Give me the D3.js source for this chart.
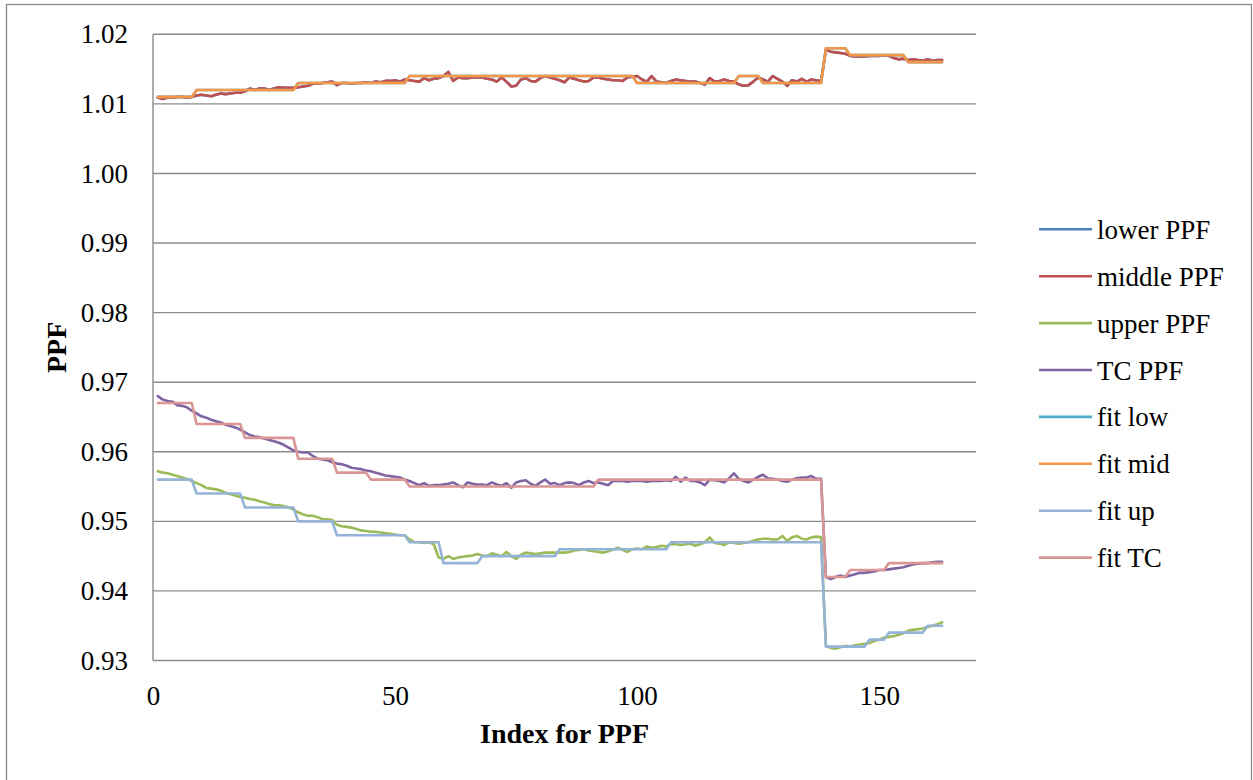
<!DOCTYPE html>
<html>
<head>
<meta charset="utf-8">
<script src="https://cdn.jsdelivr.net/npm/d3@7/dist/d3.min.js"></script>
<style>
  html, body { margin: 0; padding: 0; background: #ffffff; }
  svg { display: block; }
  text { font-family: "Liberation Serif", "Times New Roman", serif; fill: #000; }
</style>
</head>
<body>
<svg id="chart" width="1253" height="780"></svg>
<script>
// ---------------- data ----------------
const seriesNames = ["lower PPF", "middle PPF", "upper PPF", "TC PPF", "fit low", "fit mid", "fit up", "fit TC"];
const seriesColors = ["#4F81BD", "#C0504D", "#9BBB59", "#8064A2", "#4BACC6", "#F79646", "#95B3D7", "#D99694"];
const xTicks = [0, 50, 100, 150];
const yTicks = [0.93, 0.94, 0.95, 0.96, 0.97, 0.98, 0.99, 1.00, 1.01, 1.02];
const xLabel = "Index for PPF";
const yLabel = "PPF";

// index values 1..163
const indexValues = [
  1,2,3,4,5,6,7,8,9,10,11,12,13,14,15,16,17,18,19,20,
  21,22,23,24,25,26,27,28,29,30,31,32,33,34,35,36,37,38,39,40,
  41,42,43,44,45,46,47,48,49,50,51,52,53,54,55,56,57,58,59,60,
  61,62,63,64,65,66,67,68,69,70,71,72,73,74,75,76,77,78,79,80,
  81,82,83,84,85,86,87,88,89,90,91,92,93,94,95,96,97,98,99,100,
  101,102,103,104,105,106,107,108,109,110,111,112,113,114,115,116,117,118,119,120,
  121,122,123,124,125,126,127,128,129,130,131,132,133,134,135,136,137,138,139,140,
  141,142,143,144,145,146,147,148,149,150,151,152,153,154,155,156,157,158,159,160,
  161,162,163
];

const middlePPF = [
  1.0109,1.0107,1.0109,1.0109,1.0110,1.0110,1.0109,1.0110,1.0112,1.0113,
  1.0112,1.0111,1.0113,1.0115,1.0114,1.0115,1.0116,1.0116,1.0118,1.0122,
  1.0120,1.0122,1.0122,1.0120,1.0122,1.0124,1.0123,1.0123,1.0123,1.0124,
  1.0125,1.0126,1.0129,1.0129,1.0130,1.0131,1.0132,1.0127,1.0130,1.0130,
  1.0129,1.0130,1.0130,1.0131,1.0130,1.0132,1.0131,1.0133,1.0133,1.0134,
  1.0132,1.0135,1.0134,1.0133,1.0132,1.0137,1.0134,1.0136,1.0137,1.0140,
  1.0146,1.0133,1.0138,1.0137,1.0137,1.0138,1.0138,1.0138,1.0136,1.0135,
  1.0132,1.0138,1.0132,1.0125,1.0126,1.0135,1.0137,1.0133,1.0132,1.0137,
  1.0140,1.0138,1.0136,1.0134,1.0131,1.0138,1.0136,1.0134,1.0132,1.0133,
  1.0138,1.0138,1.0136,1.0135,1.0134,1.0134,1.0133,1.0138,1.0139,1.0140,
  1.0135,1.0132,1.0140,1.0132,1.0131,1.0130,1.0133,1.0135,1.0134,1.0133,
  1.0132,1.0132,1.0130,1.0128,1.0137,1.0132,1.0133,1.0135,1.0133,1.0132,
  1.0128,1.0126,1.0127,1.0132,1.0138,1.0135,1.0132,1.0140,1.0136,1.0132,
  1.0126,1.0134,1.0132,1.0136,1.0132,1.0135,1.0134,1.0133,1.0178,1.0175,
  1.0174,1.0173,1.0172,1.0169,1.0168,1.0168,1.0168,1.0169,1.0169,1.0169,
  1.0170,1.0169,1.0166,1.0164,1.0165,1.0163,1.0164,1.0163,1.0162,1.0164,
  1.0162,1.0163,1.0163
];

// lower PPF lies exactly under middle PPF in the picture (not visible)
const lowerPPF = middlePPF.slice();

const upperPPF = [
  0.9572,0.9570,0.9569,0.9567,0.9565,0.9563,0.9561,0.9558,0.9555,0.9552,
  0.9548,0.9547,0.9546,0.9544,0.9541,0.9539,0.9537,0.9535,0.9534,0.9532,
  0.9531,0.9529,0.9527,0.9525,0.9523,0.9523,0.9522,0.9520,0.9517,0.9513,
  0.9510,0.9508,0.9508,0.9506,0.9503,0.9503,0.9502,0.9495,0.9493,0.9492,
  0.9491,0.9489,0.9487,0.9486,0.9485,0.9485,0.9484,0.9483,0.9482,0.9481,
  0.9480,0.9480,0.9474,0.9470,0.9470,0.9469,0.9470,0.9467,0.9448,0.9446,
  0.9450,0.9446,0.9448,0.9449,0.9450,0.9451,0.9453,0.9451,0.9450,0.9454,
  0.9452,0.9450,0.9456,0.9450,0.9446,0.9452,0.9455,0.9454,0.9453,0.9454,
  0.9455,0.9455,0.9455,0.9455,0.9455,0.9456,0.9458,0.9459,0.9460,0.9458,
  0.9457,0.9456,0.9455,0.9457,0.9459,0.9462,0.9459,0.9456,0.9460,0.9461,
  0.9460,0.9464,0.9462,0.9463,0.9465,0.9464,0.9467,0.9467,0.9466,0.9467,
  0.9468,0.9465,0.9467,0.9470,0.9477,0.9469,0.9468,0.9466,0.9470,0.9469,
  0.9468,0.9469,0.9470,0.9472,0.9474,0.9475,0.9475,0.9474,0.9474,0.9479,
  0.9472,0.9477,0.9479,0.9475,0.9474,0.9477,0.9478,0.9477,0.9321,0.9318,
  0.9317,0.9319,0.9321,0.9320,0.9322,0.9323,0.9324,0.9325,0.9328,0.9330,
  0.9333,0.9334,0.9335,0.9337,0.9339,0.9343,0.9344,0.9345,0.9346,0.9348,
  0.9350,0.9352,0.9355
];

const tcPPF = [
  0.9680,0.9675,0.9673,0.9672,0.9667,0.9666,0.9664,0.9659,0.9655,0.9651,
  0.9649,0.9646,0.9644,0.9642,0.9639,0.9637,0.9635,0.9632,0.9628,0.9624,
  0.9622,0.9621,0.9619,0.9617,0.9615,0.9613,0.9610,0.9606,0.9602,0.9600,
  0.9599,0.9599,0.9594,0.9590,0.9589,0.9588,0.9585,0.9583,0.9582,0.9580,
  0.9577,0.9576,0.9575,0.9573,0.9572,0.9570,0.9568,0.9566,0.9565,0.9564,
  0.9563,0.9560,0.9558,0.9555,0.9552,0.9555,0.9551,0.9552,0.9552,0.9553,
  0.9554,0.9556,0.9552,0.9549,0.9556,0.9554,0.9553,0.9553,0.9552,0.9556,
  0.9553,0.9551,0.9555,0.9548,0.9556,0.9558,0.9559,0.9554,0.9551,0.9556,
  0.9560,0.9554,0.9555,0.9552,0.9555,0.9556,0.9555,0.9552,0.9556,0.9558,
  0.9555,0.9556,0.9554,0.9552,0.9558,0.9558,0.9558,0.9557,0.9558,0.9558,
  0.9558,0.9557,0.9558,0.9558,0.9558,0.9559,0.9558,0.9564,0.9557,0.9563,
  0.9558,0.9558,0.9556,0.9552,0.9560,0.9559,0.9558,0.9556,0.9562,0.9569,
  0.9561,0.9558,0.9556,0.9560,0.9564,0.9567,0.9562,0.9561,0.9560,0.9558,
  0.9557,0.9560,0.9562,0.9563,0.9563,0.9565,0.9561,0.9561,0.9420,0.9417,
  0.9420,0.9422,0.9420,0.9422,0.9424,0.9426,0.9426,0.9427,0.9428,0.9430,
  0.9430,0.9431,0.9432,0.9433,0.9434,0.9436,0.9438,0.9439,0.9440,0.9440,
  0.9441,0.9442,0.9442
];

// ten values per row (index 1-10, 11-20, ...)
const fitMid = [
  1.011,1.011,1.011,1.011,1.011,1.011,1.011,1.011,1.012,1.012,
  1.012,1.012,1.012,1.012,1.012,1.012,1.012,1.012,1.012,1.012,
  1.012,1.012,1.012,1.012,1.012,1.012,1.012,1.012,1.012,1.013,
  1.013,1.013,1.013,1.013,1.013,1.013,1.013,1.013,1.013,1.013,
  1.013,1.013,1.013,1.013,1.013,1.013,1.013,1.013,1.013,1.013,
  1.013,1.013,1.014,1.014,1.014,1.014,1.014,1.014,1.014,1.014,
  1.014,1.014,1.014,1.014,1.014,1.014,1.014,1.014,1.014,1.014,
  1.014,1.014,1.014,1.014,1.014,1.014,1.014,1.014,1.014,1.014,
  1.014,1.014,1.014,1.014,1.014,1.014,1.014,1.014,1.014,1.014,
  1.014,1.014,1.014,1.014,1.014,1.014,1.014,1.014,1.014,1.013,
  1.013,1.013,1.013,1.013,1.013,1.013,1.013,1.013,1.013,1.013,
  1.013,1.013,1.013,1.013,1.013,1.013,1.013,1.013,1.013,1.013,
  1.014,1.014,1.014,1.014,1.014,1.013,1.013,1.013,1.013,1.013,
  1.013,1.013,1.013,1.013,1.013,1.013,1.013,1.013,1.018,1.018,
  1.018,1.018,1.018,1.017,1.017,1.017,1.017,1.017,1.017,1.017,
  1.017,1.017,1.017,1.017,1.017,1.016,1.016,1.016,1.016,1.016,
  1.016,1.016,1.016
];

// fit low lies exactly under fit mid in the picture (not visible)
const fitLow = fitMid.slice();

const fitUp = [
  0.956,0.956,0.956,0.956,0.956,0.956,0.956,0.956,0.954,0.954,
  0.954,0.954,0.954,0.954,0.954,0.954,0.954,0.954,0.952,0.952,
  0.952,0.952,0.952,0.952,0.952,0.952,0.952,0.952,0.952,0.950,
  0.950,0.950,0.950,0.950,0.950,0.950,0.950,0.948,0.948,0.948,
  0.948,0.948,0.948,0.948,0.948,0.948,0.948,0.948,0.948,0.948,
  0.948,0.948,0.947,0.947,0.947,0.947,0.947,0.947,0.947,0.944,
  0.944,0.944,0.944,0.944,0.944,0.944,0.944,0.945,0.945,0.945,
  0.945,0.945,0.945,0.945,0.945,0.945,0.945,0.945,0.945,0.945,
  0.945,0.945,0.945,0.946,0.946,0.946,0.946,0.946,0.946,0.946,
  0.946,0.946,0.946,0.946,0.946,0.946,0.946,0.946,0.946,0.946,
  0.946,0.946,0.946,0.946,0.946,0.946,0.947,0.947,0.947,0.947,
  0.947,0.947,0.947,0.947,0.947,0.947,0.947,0.947,0.947,0.947,
  0.947,0.947,0.947,0.947,0.947,0.947,0.947,0.947,0.947,0.947,
  0.947,0.947,0.947,0.947,0.947,0.947,0.947,0.947,0.932,0.932,
  0.932,0.932,0.932,0.932,0.932,0.932,0.932,0.933,0.933,0.933,
  0.933,0.934,0.934,0.934,0.934,0.934,0.934,0.934,0.934,0.935,
  0.935,0.935,0.935
];

const fitTC = [
  0.967,0.967,0.967,0.967,0.967,0.967,0.967,0.967,0.964,0.964,
  0.964,0.964,0.964,0.964,0.964,0.964,0.964,0.964,0.962,0.962,
  0.962,0.962,0.962,0.962,0.962,0.962,0.962,0.962,0.962,0.959,
  0.959,0.959,0.959,0.959,0.959,0.959,0.959,0.957,0.957,0.957,
  0.957,0.957,0.957,0.957,0.956,0.956,0.956,0.956,0.956,0.956,
  0.956,0.956,0.955,0.955,0.955,0.955,0.955,0.955,0.955,0.955,
  0.955,0.955,0.955,0.955,0.955,0.955,0.955,0.955,0.955,0.955,
  0.955,0.955,0.955,0.955,0.955,0.955,0.955,0.955,0.955,0.955,
  0.955,0.955,0.955,0.955,0.955,0.955,0.955,0.955,0.955,0.955,
  0.955,0.956,0.956,0.956,0.956,0.956,0.956,0.956,0.956,0.956,
  0.956,0.956,0.956,0.956,0.956,0.956,0.956,0.956,0.956,0.956,
  0.956,0.956,0.956,0.956,0.956,0.956,0.956,0.956,0.956,0.956,
  0.956,0.956,0.956,0.956,0.956,0.956,0.956,0.956,0.956,0.956,
  0.956,0.956,0.956,0.956,0.956,0.956,0.956,0.956,0.942,0.942,
  0.942,0.942,0.942,0.943,0.943,0.943,0.943,0.943,0.943,0.943,
  0.943,0.944,0.944,0.944,0.944,0.944,0.944,0.944,0.944,0.944,
  0.944,0.944,0.944
];

const seriesValues = [lowerPPF, middlePPF, upperPPF, tcPPF, fitLow, fitMid, fitUp, fitTC];

// ---------------- drawing ----------------
const svg = d3.select("#chart");
const plot = { left: 153, right: 976, top: 34.3, bottom: 660.5 };

const x = d3.scaleLinear().domain([0, 170]).range([plot.left, plot.right]);
const y = d3.scaleLinear().domain([0.93, 1.02]).range([plot.bottom, plot.top]);

// outer chart border
svg.append("rect")
  .attr("x", 6.5).attr("y", 4.5).attr("width", 1245).attr("height", 790)
  .attr("fill", "none").attr("stroke", "#8a8a8a").attr("stroke-width", 1.3);

// gridlines
svg.append("g").selectAll("line").data(yTicks).join("line")
  .attr("x1", plot.left).attr("x2", plot.right)
  .attr("y1", d => y(d)).attr("y2", d => y(d))
  .attr("stroke", "#8c8c8c").attr("stroke-width", 1.4);

// left axis line
svg.append("line")
  .attr("x1", plot.left).attr("x2", plot.left)
  .attr("y1", plot.top).attr("y2", plot.bottom)
  .attr("stroke", "#8c8c8c").attr("stroke-width", 1.4);

// y axis tick labels
const yAxis = d3.axisLeft(y).tickValues(yTicks).tickFormat(d3.format(".2f")).tickSize(0).tickPadding(25);
const gy = svg.append("g").attr("transform", `translate(${plot.left},0)`).call(yAxis);
gy.select(".domain").remove();
gy.selectAll("text").style("font-family", "'Liberation Serif', serif").style("font-size", "27px").attr("fill", "#000");

// x axis tick labels
const xAxis = d3.axisBottom(x).tickValues(xTicks).tickFormat(d3.format("d")).tickSize(0).tickPadding(25);
const gx = svg.append("g").attr("transform", `translate(0,${plot.bottom})`).call(xAxis);
gx.select(".domain").remove();
gx.selectAll("text").style("font-family", "'Liberation Serif', serif").style("font-size", "27px").attr("fill", "#000");

// series lines
const line = d3.line()
  .x((d, i) => x(indexValues[i]))
  .y(d => y(d));

svg.append("g").selectAll("path").data(seriesValues).join("path")
  .attr("d", d => line(d))
  .attr("fill", "none")
  .attr("stroke", (d, i) => seriesColors[i])
  .attr("stroke-width", 2.6)
  .attr("stroke-linejoin", "round")
  .attr("stroke-linecap", "round");

// axis titles
svg.append("text")
  .attr("x", (plot.left + plot.right) / 2).attr("y", 743)
  .attr("text-anchor", "middle")
  .style("font-size", "28px").style("font-weight", "bold")
  .text(xLabel);

svg.append("text")
  .attr("transform", `translate(66,${(plot.top + plot.bottom) / 2}) rotate(-90)`)
  .attr("text-anchor", "middle")
  .style("font-size", "28px").style("font-weight", "bold")
  .text(yLabel);

// legend
const legend = svg.append("g");
const legendRows = legend.selectAll("g").data(seriesNames).join("g")
  .attr("transform", (d, i) => `translate(0,${229.3 + i * 46.9})`);
legendRows.append("line")
  .attr("x1", 1039).attr("x2", 1092).attr("y1", 0).attr("y2", 0)
  .attr("stroke", (d, i) => seriesColors[i]).attr("stroke-width", 2.6);
legendRows.append("text")
  .attr("x", 1097).attr("y", 9.5)
  .style("font-size", "27px")
  .text(d => d);
</script>
</body>
</html>
